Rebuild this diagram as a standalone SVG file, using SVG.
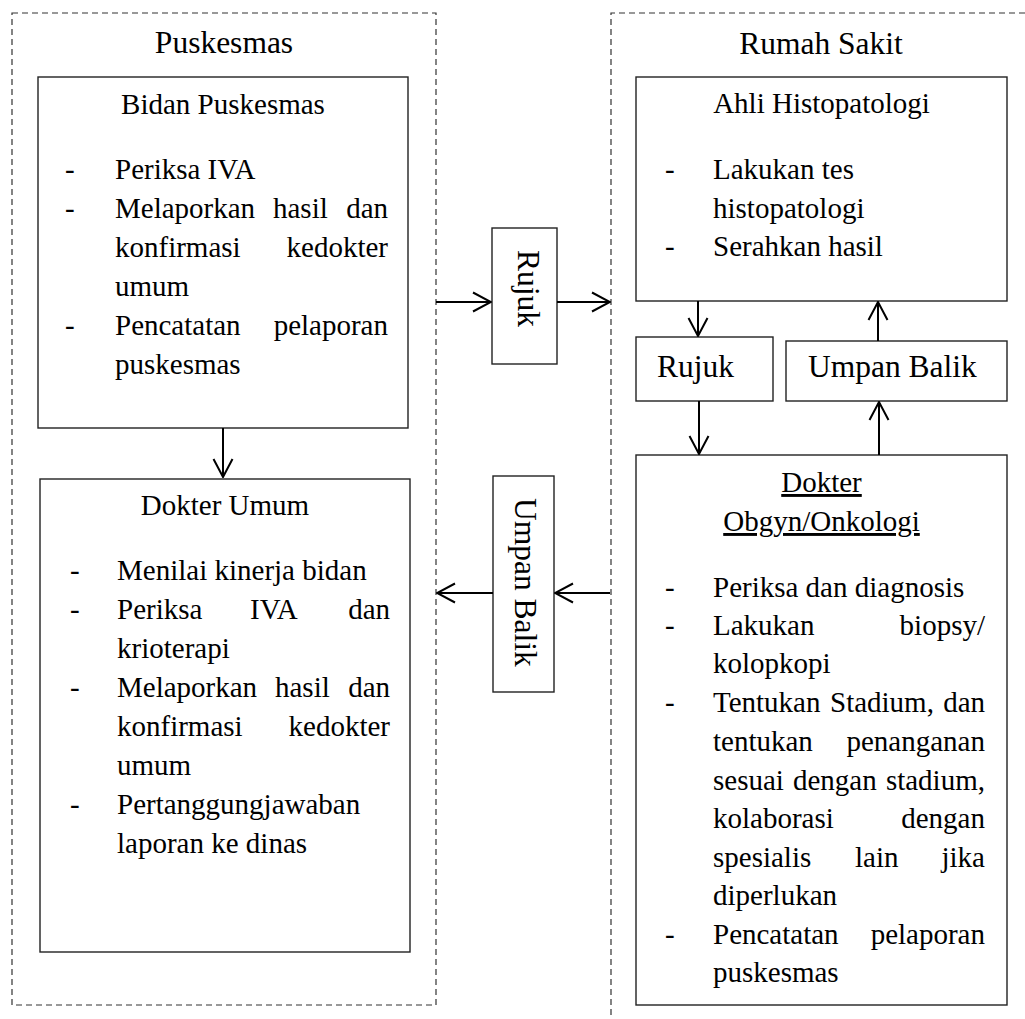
<svg xmlns="http://www.w3.org/2000/svg" width="1025" height="1019" viewBox="0 0 1025 1019">
  <style>
    .title { font-family: "Liberation Serif", serif; font-size: 31.5px; text-anchor: middle; }
    .label { font-family: "Liberation Serif", serif; font-size: 31.5px; }
    .head { font-family: "Liberation Serif", serif; font-size: 29px; text-anchor: middle; }
    .body { font-family: "Liberation Serif", serif; font-size: 29px; }
    .end { text-anchor: end; }
    .zone { fill: none; stroke: #333; stroke-width: 1.2; stroke-dasharray: 6 4; }
    .box { fill: #fff; stroke: #222; stroke-width: 1.4; }
    .conn { fill: none; stroke: #000; stroke-width: 2; marker-end: url(#arrow); }
  </style>
  <defs>
    <marker id="arrow" viewBox="0 0 20 22" refX="19" refY="11" markerWidth="20" markerHeight="22" markerUnits="userSpaceOnUse" orient="auto">
      <path d="M1,1.5 L19,11 L1,20.5" fill="none" stroke="#000" stroke-width="2"/>
    </marker>
  </defs>

  <rect width="1025" height="1019" fill="#fff"/>

  <g font-family="Liberation Serif" fill="#000">
  <!-- Puskesmas zone -->
  <g id="zone-puskesmas">
    <rect class="zone" x="12" y="13" width="424" height="992"/>
    <text class="title" x="224" y="53">Puskesmas</text>
  </g>

  <!-- Rumah Sakit zone (open to the right and bottom) -->
  <g id="zone-rumah-sakit">
    <path class="zone" d="M1025,13 H611 V1019"/>
    <text class="title" x="821" y="54">Rumah Sakit</text>
  </g>

  <!-- Bidan Puskesmas -->
  <g id="bidan-puskesmas">
    <rect class="box" x="38" y="77" width="370" height="351"/>
    <text class="head" x="223" y="114">Bidan Puskesmas</text>
    <text class="body" x="65" y="179">-</text>
    <text class="body" x="115" y="179">Periksa IVA</text>
    <text class="body" x="65" y="218">-</text>
    <text class="body" x="115" y="218">Melaporkan</text>
    <text class="body" x="273" y="218">hasil</text>
    <text class="body end" x="388" y="218">dan</text>
    <text class="body" x="115" y="257">konfirmasi</text>
    <text class="body end" x="388" y="257">kedokter</text>
    <text class="body" x="115" y="296">umum</text>
    <text class="body" x="65" y="335">-</text>
    <text class="body" x="115" y="335">Pencatatan</text>
    <text class="body end" x="388" y="335">pelaporan</text>
    <text class="body" x="115" y="374">puskesmas</text>
  </g>

  <!-- Dokter Umum -->
  <g id="dokter-umum">
    <rect class="box" x="40" y="479" width="370" height="473"/>
    <text class="head" x="225" y="515">Dokter Umum</text>
    <text class="body" x="70" y="580">-</text>
    <text class="body" x="117" y="580">Menilai kinerja bidan</text>
    <text class="body" x="70" y="619">-</text>
    <text class="body" x="117" y="619">Periksa</text>
    <text class="body" x="250" y="619">IVA</text>
    <text class="body end" x="390" y="619">dan</text>
    <text class="body" x="117" y="658">krioterapi</text>
    <text class="body" x="70" y="697">-</text>
    <text class="body" x="117" y="697">Melaporkan</text>
    <text class="body" x="275" y="697">hasil</text>
    <text class="body end" x="390" y="697">dan</text>
    <text class="body" x="117" y="736">konfirmasi</text>
    <text class="body end" x="390" y="736">kedokter</text>
    <text class="body" x="117" y="775">umum</text>
    <text class="body" x="70" y="814">-</text>
    <text class="body" x="117" y="814">Pertanggungjawaban</text>
    <text class="body" x="117" y="853">laporan ke dinas</text>
  </g>

  <!-- Ahli Histopatologi -->
  <g id="ahli-histopatologi">
    <rect class="box" x="636" y="77" width="371" height="224"/>
    <text class="head" x="821.5" y="113">Ahli Histopatologi</text>
    <text class="body" x="665" y="179">-</text>
    <text class="body" x="713" y="179">Lakukan tes</text>
    <text class="body" x="713" y="218">histopatologi</text>
    <text class="body" x="665" y="256">-</text>
    <text class="body" x="713" y="256">Serahkan hasil</text>
  </g>

  <!-- Dokter Obgyn/Onkologi -->
  <g id="dokter-obgyn">
    <rect class="box" x="636" y="455" width="371" height="550"/>
    <text class="head" x="821.5" y="492" text-decoration="underline">Dokter</text>
    <text class="head" x="821.5" y="531" text-decoration="underline">Obgyn/Onkologi</text>
    <text class="body" x="665" y="597">-</text>
    <text class="body" x="713" y="597">Periksa dan diagnosis</text>
    <text class="body" x="665" y="635">-</text>
    <text class="body" x="713" y="635">Lakukan</text>
    <text class="body end" x="985" y="635">biopsy/</text>
    <text class="body" x="713" y="673">kolopkopi</text>
    <text class="body" x="665" y="712">-</text>
    <text class="body" x="713" y="712">Tentukan</text>
    <text class="body" x="830" y="712">Stadium,</text>
    <text class="body end" x="985" y="712">dan</text>
    <text class="body" x="713" y="751">tentukan</text>
    <text class="body end" x="985" y="751">penanganan</text>
    <text class="body" x="713" y="790">sesuai</text>
    <text class="body" x="793" y="790">dengan</text>
    <text class="body end" x="985" y="790">stadium,</text>
    <text class="body" x="713" y="828">kolaborasi</text>
    <text class="body end" x="985" y="828">dengan</text>
    <text class="body" x="713" y="867">spesialis</text>
    <text class="body" x="855" y="867">lain</text>
    <text class="body end" x="985" y="867">jika</text>
    <text class="body" x="713" y="905">diperlukan</text>
    <text class="body" x="665" y="944">-</text>
    <text class="body" x="713" y="944">Pencatatan</text>
    <text class="body end" x="985" y="944">pelaporan</text>
    <text class="body" x="713" y="982">puskesmas</text>
  </g>

  <!-- Referral / feedback labels -->
  <g id="rujuk-antar">
    <rect class="box" x="492" y="228" width="65" height="136"/>
    <text class="label" transform="translate(518,250) rotate(90)">Rujuk</text>
  </g>
  <g id="umpan-balik-antar">
    <rect class="box" x="493" y="476" width="61" height="216"/>
    <text class="label" transform="translate(515,498) rotate(90)">Umpan Balik</text>
  </g>
  <g id="rujuk-rs">
    <rect class="box" x="636" y="337" width="137" height="64"/>
    <text class="label" x="657" y="377">Rujuk</text>
  </g>
  <g id="umpan-balik-rs">
    <rect class="box" x="786" y="341" width="221" height="60"/>
    <text class="label" x="808" y="377">Umpan Balik</text>
  </g>
  </g>

  <!-- Connectors -->
  <g id="connectors">
    <line class="conn" x1="223" y1="428" x2="223" y2="477"/>
    <line class="conn" x1="436" y1="302" x2="491" y2="302"/>
    <line class="conn" x1="557" y1="302" x2="610" y2="302"/>
    <line class="conn" x1="610" y1="593" x2="555" y2="593"/>
    <line class="conn" x1="493" y1="593" x2="437" y2="593"/>
    <line class="conn" x1="698" y1="301" x2="698" y2="336"/>
    <line class="conn" x1="699" y1="401" x2="699" y2="454"/>
    <line class="conn" x1="879" y1="455" x2="879" y2="402"/>
    <line class="conn" x1="878" y1="341" x2="878" y2="302"/>
  </g>
</svg>
